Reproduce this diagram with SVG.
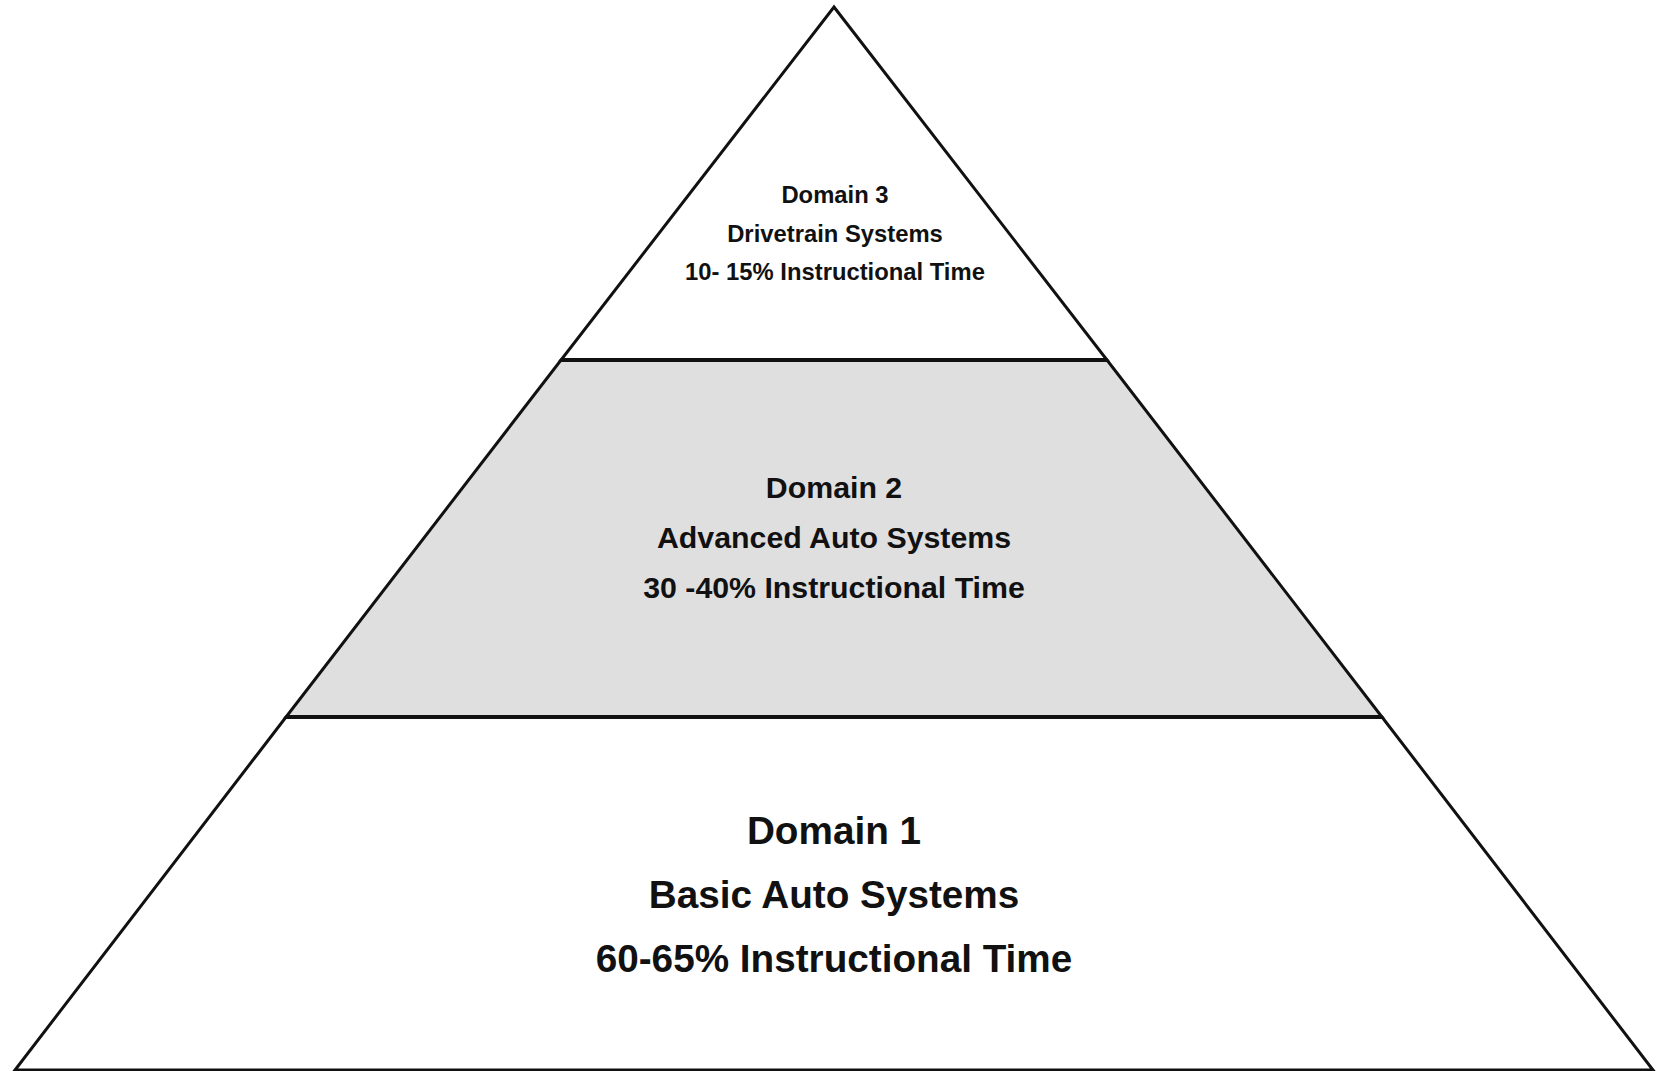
<svg xmlns="http://www.w3.org/2000/svg" width="1656" height="1071" viewBox="0 0 1656 1071">
<style>
.tier{stroke:#111;stroke-width:3;stroke-linejoin:miter}
.div{stroke:#111;stroke-width:4}
.t{font-family:"Liberation Sans",Arial,sans-serif;font-weight:bold;fill:#111;text-anchor:middle}
</style>
<rect width="1656" height="1071" fill="#fff"/>
<g id="domain1">
<polygon class="tier" points="286,717 1382,717 1653,1070 15,1070" fill="#fff"/>
<text class="t" x="834" y="844" font-size="38.7">Domain 1</text>
<text class="t" x="834" y="908" font-size="38.7">Basic Auto Systems</text>
<text class="t" x="834" y="972" font-size="38.7">60-65% Instructional Time</text>
</g>
<g id="domain2">
<polygon class="tier" points="561,360 1107,360 1382,717 286,717" fill="#e0dfe0"/>
<text class="t" x="834" y="498" font-size="30.3">Domain 2</text>
<text class="t" x="834" y="548" font-size="30.3">Advanced Auto Systems</text>
<text class="t" x="834" y="598" font-size="30.3">30 -40% Instructional Time</text>
</g>
<g id="domain3">
<polygon class="tier" points="834,7 1107,360 561,360" fill="#fff"/>
<text class="t" x="835" y="203" font-size="23.8">Domain 3</text>
<text class="t" x="835" y="242" font-size="23.8">Drivetrain Systems</text>
<text class="t" x="835" y="280" font-size="23.8">10- 15% Instructional Time</text>
</g>
<g id="connectors">
<line class="div" x1="561" y1="360" x2="1107" y2="360"/>
<line class="div" x1="286" y1="717" x2="1382" y2="717"/>
</g>
</svg>
